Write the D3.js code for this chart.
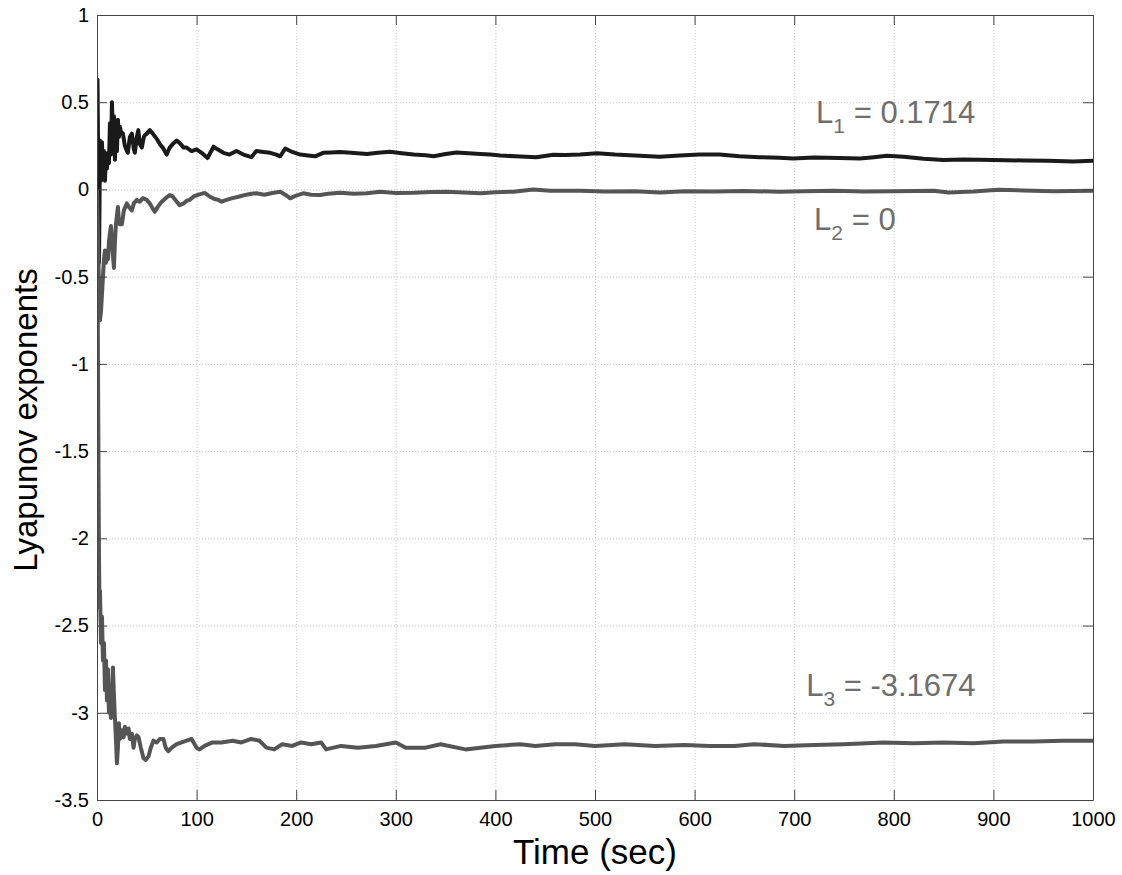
<!DOCTYPE html>
<html>
<head>
<meta charset="utf-8">
<script src="https://cdn.jsdelivr.net/npm/d3@7"></script>
<style>
  body { margin: 0; background: #fff; }
  svg { display: block; font-family: 'Liberation Sans', Arial, sans-serif; }
  .grid line { stroke: #c8c8c8; stroke-dasharray: 1,2; }
  .grid path { display: none; }
  .axis path, .axis line { stroke: #444; }
  .axis text { fill: #000; font-size: 20px; font-family: 'Liberation Sans', Arial, sans-serif; }
</style>
</head>
<body>
<div id="chart"></div>
<script>
// tick values
var xTicks = [0, 100, 200, 300, 400, 500, 600, 700, 800, 900, 1000]
var yTicks = [1, 0.5, 0, -0.5, -1, -1.5, -2, -2.5, -3, -3.5]

// L1 (largest exponent)
var timeL1 = [0, 0.5, 1, 1.5, 2, 2.5, 3, 4, 5, 6, 7, 8, 9, 10, 11, 12, 13, 14, 15, 16, 17, 18, 19, 20, 21, 22, 23, 24, 26, 28, 30, 31, 33, 35, 37, 38, 40, 41.5, 43, 45, 47, 48, 50, 53, 56, 60, 63, 66, 70, 73, 76, 80, 84, 87, 90, 95, 100, 105, 111, 117, 121, 127, 133, 140, 147, 155, 160, 167, 174, 180, 184, 189, 196, 204, 212, 219, 227, 235, 244, 255, 271, 282, 294, 306, 318, 330, 338, 350, 361, 373, 385, 395, 405, 420, 441, 458, 470, 485, 502, 520, 540, 565, 585, 605, 625, 645, 665, 685, 699, 720, 745, 766, 780, 793, 810, 830, 850, 870, 900, 930, 955, 980, 1000]
var valuesL1 = [0.1, 0.63, 0.3, -0.1, -0.42, -0.1, 0.28, 0.05, 0.27, 0.1, 0.22, 0.05, 0.2, 0.12, 0.21, 0.15, 0.38, 0.2, 0.5, 0.3, 0.42, 0.17, 0.38, 0.22, 0.4, 0.3, 0.36, 0.33, 0.32, 0.25, 0.22, 0.21, 0.3, 0.32, 0.23, 0.21, 0.3, 0.34, 0.26, 0.24, 0.3, 0.31, 0.32, 0.34, 0.32, 0.29, 0.26, 0.24, 0.2, 0.24, 0.26, 0.28, 0.26, 0.24, 0.24, 0.22, 0.23, 0.21, 0.18, 0.245, 0.23, 0.21, 0.2, 0.22, 0.2, 0.185, 0.22, 0.215, 0.21, 0.2, 0.19, 0.235, 0.215, 0.2, 0.195, 0.19, 0.21, 0.212, 0.215, 0.21, 0.203, 0.21, 0.216, 0.208, 0.2, 0.196, 0.19, 0.203, 0.212, 0.207, 0.203, 0.2, 0.195, 0.19, 0.184, 0.199, 0.197, 0.2, 0.207, 0.2, 0.195, 0.188, 0.195, 0.2, 0.2, 0.19, 0.185, 0.182, 0.178, 0.183, 0.18, 0.178, 0.185, 0.193, 0.188, 0.176, 0.169, 0.172, 0.169, 0.166, 0.164, 0.16, 0.165]

// L2 (zero exponent)
var timeL2 = [0, 1, 2, 3, 4, 5, 6, 7, 8, 9, 10, 11, 12, 13, 14, 15, 16, 17, 18, 19, 20, 21, 22, 23, 25, 27, 30, 32, 35, 37, 40, 43, 46, 50, 53, 56, 58, 61, 65, 69, 73, 76, 80, 83, 87, 90, 93, 97, 102, 108, 113, 118, 122, 125, 130, 136, 142, 150, 155, 160, 168, 176, 184, 189, 194, 200, 207, 215, 224, 232, 244, 258, 271, 284, 300, 318, 335, 351, 368, 385, 400, 418, 438, 455, 485, 510, 540, 565, 590, 620, 650, 685, 710, 740, 770, 800, 840, 855, 880, 905, 930, 960, 1000]
var valuesL2 = [0, -0.3, -0.55, -0.75, -0.7, -0.6, -0.5, -0.4, -0.35, -0.42, -0.38, -0.4, -0.3, -0.25, -0.21, -0.3, -0.38, -0.45, -0.3, -0.2, -0.15, -0.1, -0.18, -0.2, -0.2, -0.12, -0.08, -0.1, -0.12, -0.08, -0.06, -0.07, -0.05, -0.06, -0.08, -0.11, -0.128, -0.1, -0.07, -0.05, -0.032, -0.04, -0.07, -0.09, -0.08, -0.065, -0.06, -0.04, -0.03, -0.02, -0.04, -0.055, -0.06, -0.07, -0.06, -0.05, -0.042, -0.03, -0.025, -0.022, -0.03, -0.02, -0.013, -0.03, -0.051, -0.035, -0.022, -0.03, -0.032, -0.025, -0.019, -0.025, -0.022, -0.013, -0.02, -0.019, -0.015, -0.013, -0.018, -0.022, -0.016, -0.013, 0, -0.008, -0.007, -0.012, -0.01, -0.018, -0.01, -0.012, -0.009, -0.013, -0.01, -0.008, -0.012, -0.01, -0.008, -0.018, -0.012, -0.002, -0.006, -0.01, -0.008]

// L3 (negative exponent)
var timeL3 = [0, 0.5, 1, 1.5, 2, 2.5, 3, 4, 5, 6, 7, 8, 9, 10, 11, 12, 13, 14, 15, 16, 17, 18, 19, 20, 21, 22, 23, 25, 26.7, 28, 30, 31.7, 33, 35, 36.7, 38, 40, 41.7, 44, 46.7, 49, 51.7, 54, 56.7, 60, 63, 66.7, 69, 71.7, 75, 80, 85, 90, 95, 100, 103, 108, 116, 125, 136, 145, 155, 163, 170, 178, 186, 196, 205, 215, 225, 230, 245, 262, 280, 300, 310, 330, 345, 370, 385, 400, 425, 440, 460, 480, 500, 530, 560, 590, 615, 640, 660, 690, 720, 750, 790, 820, 850, 880, 910, 940, 970, 1000]
var valuesL3 = [0, -0.4, -1.0, -1.6, -2.1, -2.4, -2.3, -2.6, -2.45, -2.7, -2.6, -2.87, -2.7, -2.93, -2.75, -3.0, -2.85, -3.03, -2.9, -2.74, -2.9, -3.03, -3.15, -3.29, -3.2, -3.06, -3.15, -3.1, -3.14, -3.08, -3.12, -3.09, -3.15, -3.12, -3.2, -3.15, -3.13, -3.14, -3.2, -3.26, -3.27, -3.25, -3.2, -3.16, -3.17, -3.15, -3.15, -3.2, -3.22, -3.2, -3.18, -3.17, -3.16, -3.15, -3.2, -3.21, -3.19, -3.17, -3.17, -3.16, -3.17, -3.15, -3.16, -3.2, -3.21, -3.18, -3.19, -3.17, -3.18, -3.17, -3.21, -3.19, -3.2, -3.19, -3.17, -3.2, -3.2, -3.18, -3.21, -3.2, -3.19, -3.18, -3.19, -3.18, -3.18, -3.19, -3.18, -3.19, -3.185, -3.19, -3.19, -3.18, -3.19, -3.185, -3.18, -3.17, -3.175, -3.17, -3.175, -3.165, -3.165, -3.16, -3.16]

var series = [
  { name: 'L1', t: timeL1, v: valuesL1, color: '#1a1a1a' },
  { name: 'L2', t: timeL2, v: valuesL2, color: '#555555' },
  { name: 'L3', t: timeL3, v: valuesL3, color: '#555555' }
]

var labels = [
  { sub: '1', text: ' = 0.1714', t: 722, v: 0.38 },
  { sub: '2', text: ' = 0', t: 720, v: -0.235 },
  { sub: '3', text: ' = -3.1674', t: 712, v: -2.905 }
]

var width = 1122, height = 875
var margin = { top: 15, right: 29, bottom: 75, left: 97 }
var w = width - margin.left - margin.right
var h = height - margin.top - margin.bottom

var svg = d3.select('#chart')
  .append('svg')
  .attr('width', width)
  .attr('height', height)

var g = svg.append('g')
  .attr('transform', 'translate(' + margin.left + ',' + margin.top + ')')

var x = d3.scaleLinear().domain([0, 1000]).range([0, w])
var y = d3.scaleLinear().domain([-3.5, 1]).range([h, 0])

// dotted grid
g.append('g')
  .attr('class', 'grid')
  .call(d3.axisBottom(x).tickValues(xTicks).tickSize(h).tickFormat(''))
g.append('g')
  .attr('class', 'grid')
  .call(d3.axisLeft(y).tickValues(yTicks).tickSize(-w).tickFormat(''))

g.append('defs').append('clipPath')
  .attr('id', 'plot-clip')
  .append('rect')
  .attr('width', w)
  .attr('height', h)

var line = d3.line()
  .x(function (d) { return x(d[0]) })
  .y(function (d) { return y(d[1]) })

g.append('g')
  .attr('clip-path', 'url(#plot-clip)')
  .selectAll('path')
  .data(series)
  .enter()
  .append('path')
  .attr('d', function (s) { return line(d3.zip(s.t, s.v)) })
  .attr('fill', 'none')
  .attr('stroke', function (s) { return s.color })
  .attr('stroke-width', 4)
  .attr('stroke-linejoin', 'round')

// axes, matlab style box with inward ticks
var fmt = function (d) { return String(d) }

g.append('g')
  .attr('class', 'axis')
  .attr('transform', 'translate(0,' + h + ')')
  .call(d3.axisBottom(x).tickValues(xTicks).tickSizeInner(-10).tickSizeOuter(0).tickPadding(12).tickFormat(fmt))

g.append('g')
  .attr('class', 'axis')
  .call(d3.axisLeft(y).tickValues(yTicks).tickSizeInner(-10).tickSizeOuter(0).tickPadding(8).tickFormat(fmt))

g.append('g')
  .attr('class', 'axis')
  .call(d3.axisTop(x).tickValues(xTicks).tickSizeInner(-10).tickSizeOuter(0).tickFormat(''))

g.append('g')
  .attr('class', 'axis')
  .attr('transform', 'translate(' + w + ',0)')
  .call(d3.axisRight(y).tickValues(yTicks).tickSizeInner(-10).tickSizeOuter(0).tickFormat(''))

// exponent annotations
var ann = g.selectAll('.ann')
  .data(labels)
  .enter()
  .append('text')
  .attr('class', 'ann')
  .attr('x', function (d) { return x(d.t) })
  .attr('y', function (d) { return y(d.v) })
  .style('font-size', '31px')
  .style('fill', '#6e6e6e')

ann.append('tspan').text('L')
ann.append('tspan')
  .attr('dy', 10)
  .style('font-size', '21px')
  .text(function (d) { return d.sub })
ann.append('tspan')
  .attr('dy', -10)
  .text(function (d) { return d.text })

// axis titles
svg.append('text')
  .attr('x', margin.left + w / 2)
  .attr('y', 864)
  .attr('text-anchor', 'middle')
  .style('font-size', '35px')
  .text('Time (sec)')

svg.append('text')
  .attr('transform', 'translate(37,420) rotate(-90)')
  .attr('text-anchor', 'middle')
  .style('font-size', '33px')
  .text('Lyapunov exponents')
</script>
</body>
</html>
